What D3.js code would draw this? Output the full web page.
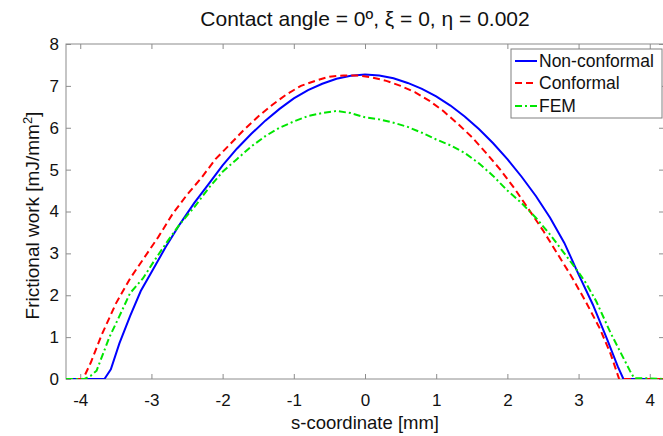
<!DOCTYPE html>
<html>
<head>
<meta charset="utf-8">
<script src="https://cdn.jsdelivr.net/npm/d3@7"></script>
<style>
  html, body { margin: 0; padding: 0; background: #fff; }
  svg { display: block; font-family: "Liberation Sans", Arial, sans-serif; }
</style>
</head>
<body>
<svg id="chart" width="663" height="436"></svg>
<script>
// ---------- data ----------
const titleText = "Contact angle = 0º, ξ = 0, η = 0.002";
const xLabelText = "s-coordinate [mm]";
const xTicks = [-4, -3, -2, -1, 0, 1, 2, 3, 4];
const yTicks = [0, 1, 2, 3, 4, 5, 6, 7, 8];
const seriesNames = ["Non-conformal", "Conformal", "FEM"];

const nonConformal = [
  [-4.2, 0], [-3.66, 0], [-3.57, 0.23], [-3.45, 0.85], [-3.3, 1.5], [-3.15, 2.1],
  [-3.0, 2.55], [-2.8, 3.15], [-2.6, 3.7], [-2.4, 4.2], [-2.2, 4.65], [-2.0, 5.1],
  [-1.8, 5.5], [-1.6, 5.85], [-1.4, 6.17], [-1.2, 6.45], [-1.0, 6.7], [-0.8, 6.9],
  [-0.6, 7.05], [-0.4, 7.17], [-0.2, 7.24], [0.0, 7.27], [0.2, 7.25], [0.4, 7.18],
  [0.6, 7.07], [0.8, 6.93], [1.0, 6.75], [1.2, 6.53], [1.4, 6.27], [1.6, 5.97],
  [1.8, 5.63], [2.0, 5.25], [2.2, 4.83], [2.4, 4.37], [2.6, 3.85], [2.8, 3.25],
  [3.0, 2.5], [3.2, 1.78], [3.4, 0.95], [3.55, 0.3], [3.63, 0], [4.2, 0]
];
const conformal = [
  [-4.2, 0], [-3.96, 0], [-3.85, 0.4], [-3.7, 1.05], [-3.5, 1.8], [-3.3, 2.4],
  [-3.1, 2.9], [-2.9, 3.4], [-2.7, 3.95], [-2.5, 4.4], [-2.3, 4.8], [-2.1, 5.25],
  [-1.9, 5.6], [-1.7, 5.95], [-1.5, 6.27], [-1.3, 6.55], [-1.1, 6.8], [-0.9, 7.0],
  [-0.7, 7.12], [-0.5, 7.22], [-0.3, 7.25], [-0.1, 7.25], [0.1, 7.2], [0.3, 7.12],
  [0.5, 7.0], [0.7, 6.85], [0.9, 6.65], [1.1, 6.4], [1.3, 6.1], [1.5, 5.78],
  [1.7, 5.4], [1.9, 5.0], [2.1, 4.55], [2.3, 4.05], [2.5, 3.55], [2.7, 3.0],
  [2.9, 2.45], [3.1, 1.85], [3.3, 1.2], [3.45, 0.6], [3.57, 0], [4.2, 0]
];
const fem = [
  [-4.2, 0], [-3.94, 0], [-3.85, 0.08], [-3.77, 0.2], [-3.68, 0.6], [-3.59, 1.0],
  [-3.45, 1.5], [-3.3, 2.05], [-3.12, 2.4], [-2.95, 2.85], [-2.77, 3.3], [-2.6, 3.7],
  [-2.4, 4.1], [-2.2, 4.55], [-2.0, 4.95], [-1.8, 5.25], [-1.6, 5.55], [-1.4, 5.8],
  [-1.2, 6.0], [-1.0, 6.15], [-0.8, 6.28], [-0.6, 6.35], [-0.4, 6.4], [-0.2, 6.35],
  [0.0, 6.25], [0.2, 6.2], [0.4, 6.12], [0.6, 6.02], [0.8, 5.88], [1.0, 5.72],
  [1.2, 5.58], [1.4, 5.4], [1.6, 5.15], [1.8, 4.85], [2.0, 4.5], [2.2, 4.2],
  [2.4, 3.85], [2.6, 3.45], [2.8, 3.0], [3.0, 2.55], [3.1, 2.3], [3.25, 1.85],
  [3.45, 1.1], [3.6, 0.6], [3.72, 0.2], [3.78, 0.02], [3.9, 0.02], [4.2, 0]
];

// ---------- layout ----------
const svg = d3.select("#chart");
const L = 66, R = 664, T = 44, B = 379;
const x = d3.scaleLinear().domain([-4.2, 4.2]).range([L, R]);
const y = d3.scaleLinear().domain([0, 8]).range([B, T]);
const axisColor = "#8c8c8c";
const fs = 17;

svg.append("defs").append("clipPath").attr("id", "clip")
  .append("rect").attr("x", L).attr("y", T).attr("width", R - L).attr("height", B - T);

// axes (inward ticks, box)
const gB = svg.append("g").attr("transform", `translate(0,${B})`)
  .call(d3.axisBottom(x).tickValues(xTicks).tickSize(-5).tickPadding(15).tickFormat(d => String(d)));
const gT = svg.append("g").attr("transform", `translate(0,${T})`)
  .call(d3.axisTop(x).tickValues(xTicks).tickSize(-5).tickFormat(""));
const gL = svg.append("g").attr("transform", `translate(${L},0)`)
  .call(d3.axisLeft(y).tickValues(yTicks).tickSize(-5).tickPadding(7).tickFormat(d => String(d)));
const gR = svg.append("g").attr("transform", `translate(${R},0)`)
  .call(d3.axisRight(y).tickValues(yTicks).tickSize(-5).tickFormat(""));
[gB, gT, gL, gR].forEach(g => {
  g.select(".domain").remove();
  g.selectAll(".tick line").attr("stroke", axisColor).attr("stroke-width", 1);
  g.selectAll(".tick text").attr("fill", "#111").style("font-size", fs + "px")
    .style("font-family", '"Liberation Sans", Arial, sans-serif');
});
gB.selectAll(".tick text").attr("dy", "0.71em");
svg.append("rect").attr("x", L).attr("y", T).attr("width", R - L).attr("height", B - T)
  .attr("fill", "none").attr("stroke", axisColor).attr("stroke-width", 1);

// lines
const line = d3.line().x(d => x(d[0])).y(d => y(d[1]));
const styles = [
  { data: nonConformal, color: "#0000ff", dash: null },
  { data: conformal, color: "#ff0000", dash: "7,4" },
  { data: fem, color: "#00e600", dash: "7,3,2,3" }
];
const plot = svg.append("g").attr("clip-path", "url(#clip)");
styles.forEach(s => {
  plot.append("path").datum(s.data).attr("d", line)
    .attr("fill", "none").attr("stroke", s.color).attr("stroke-width", 2)
    .attr("stroke-dasharray", s.dash);
});

// title & labels
svg.append("text").attr("x", (L + R) / 2).attr("y", 26).attr("text-anchor", "middle")
  .style("font-size", "21px").attr("fill", "#111").text(titleText);
svg.append("text").attr("x", (L + R) / 2).attr("y", 429).attr("text-anchor", "middle")
  .style("font-size", "18.5px").attr("fill", "#111").text(xLabelText);
const yl = svg.append("text").attr("transform", `translate(39,${(T + B) / 2 + 4}) rotate(-90)`)
  .attr("text-anchor", "middle").style("font-size", "19px").attr("fill", "#111");
yl.append("tspan").text("Frictional work [mJ/mm");
yl.append("tspan").attr("baseline-shift", "super").style("font-size", "13px").text("2");
yl.append("tspan").text("]");

// legend
const lg = svg.append("g");
lg.append("rect").attr("x", 511).attr("y", 49).attr("width", 151).attr("height", 69)
  .attr("fill", "#fff").attr("stroke", "#808080").attr("stroke-width", 1);
const rowY = [61, 83, 106];
styles.forEach((s, i) => {
  lg.append("line").attr("x1", 515).attr("x2", 537).attr("y1", rowY[i]).attr("y2", rowY[i])
    .attr("stroke", s.color).attr("stroke-width", 2).attr("stroke-dasharray", s.dash);
  lg.append("text").attr("x", 539).attr("y", rowY[i]).attr("dy", "0.36em")
    .style("font-size", "17.5px").attr("fill", "#111").text(seriesNames[i]);
});
</script>
</body>
</html>
